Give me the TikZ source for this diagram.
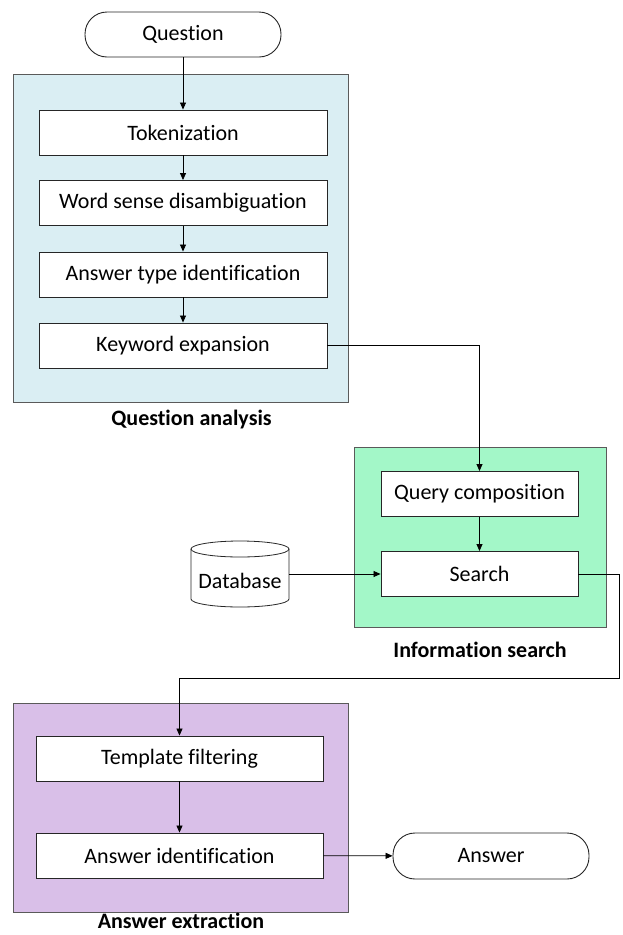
\documentclass[tikz,border=0pt]{standalone}
\usepackage{fontspec}
\setmainfont{Carlito}[Ligatures=NoCommon]
\usetikzlibrary{arrows.meta}
\definecolor{qablue}{HTML}{DAEEF3}
\definecolor{isgreen}{HTML}{A3F7C8}
\definecolor{aepurple}{HTML}{D9BFE8}
\definecolor{boxline}{HTML}{262626}
\definecolor{contline}{HTML}{5A5A5A}
\begin{document}
\begin{tikzpicture}[x=1pt,y=-1pt,
  font=\fontsize{22}{26}\selectfont,
  container/.style={draw=contline,line width=1pt,inner sep=0pt},
  procbox/.style={draw=boxline,fill=white,line width=0.9pt,inner sep=0pt,minimum height=45pt},
  term/.style={draw=boxline,fill=white,line width=0.9pt,inner sep=0pt,minimum width=196pt,minimum height=45pt,rounded corners=22pt},
  grouplabel/.style={font=\fontsize{22}{26}\selectfont\bfseries,inner sep=0pt},
  conn/.style={draw=black,line width=0.8pt,-{Triangle[length=7pt,width=6pt]}}]
\useasboundingbox (0,0) rectangle (622,935);
% containers
\node[container,fill=qablue,minimum width=335pt,minimum height=328pt] (qa) at (180.5,238) {};
\node[container,fill=isgreen,minimum width=252pt,minimum height=180pt] (is) at (480,537) {};
\node[container,fill=aepurple,minimum width=335pt,minimum height=209pt] (ae) at (180.5,807.5) {};
% group labels
\node[grouplabel] (qal) at (191.5,420) {Question analysis};
\node[grouplabel] (isl) at (480,650) {Information search};
\node[grouplabel] (ael) at (181,921) {Answer extraction};
% terminals
\node[term] (q) at (183,34.5) {Question};
\node[term,minimum height=46pt] (ans) at (491,856) {Answer};
% question analysis
\node[procbox,minimum width=288pt] (tok) at (183,132.5) {Tokenization};
\node[procbox,minimum width=288pt] (wsd) at (183,203) {Word sense disambiguation};
\node[procbox,minimum width=288pt] (ati) at (183,274.5) {Answer type identification};
\node[procbox,minimum width=288pt] (ke) at (183,345.5) {Keyword expansion};
% information search
\node[procbox,minimum width=197pt] (qc) at (479.5,494) {Query composition};
\node[procbox,minimum width=197pt] (se) at (479.5,574) {Search};
% database cylinder
\node[inner sep=0pt,minimum width=98pt,minimum height=66pt] (db) at (240,574) {};
\fill[white] (191,549) -- (191,599) arc[start angle=180,end angle=0,x radius=49,y radius=8] -- (289,549) -- cycle;
\draw[boxline,line width=0.8pt] (191,549) -- (191,599) arc[start angle=180,end angle=0,x radius=49,y radius=8] -- (289,549);
\draw[boxline,line width=0.8pt,fill=white] (240,549) ellipse[x radius=49,y radius=8];
\node[inner sep=0pt] (dbt) at (240,581) {Database};
% answer extraction
\node[procbox,minimum width=287pt] (tf) at (179.5,758.5) {Template filtering};
\node[procbox,minimum width=287pt] (ai) at (179.5,855.5) {Answer identification};
% connectors
\draw[conn] (q) -- (tok);
\draw[conn] (tok) -- (wsd);
\draw[conn] (wsd) -- (ati);
\draw[conn] (ati) -- (ke);
\draw[conn] (ke.east) -| (qc.north);
\draw[conn] (qc) -- (se);
\draw[conn] (db.east) -- (se.west);
\coordinate (bend) at (619,678);
\draw[conn] (se.east) -| (bend) -| (tf.north);
\draw[conn] (tf) -- (ai);
\draw[conn] (ai) -- (ans);
\end{tikzpicture}
\end{document}
